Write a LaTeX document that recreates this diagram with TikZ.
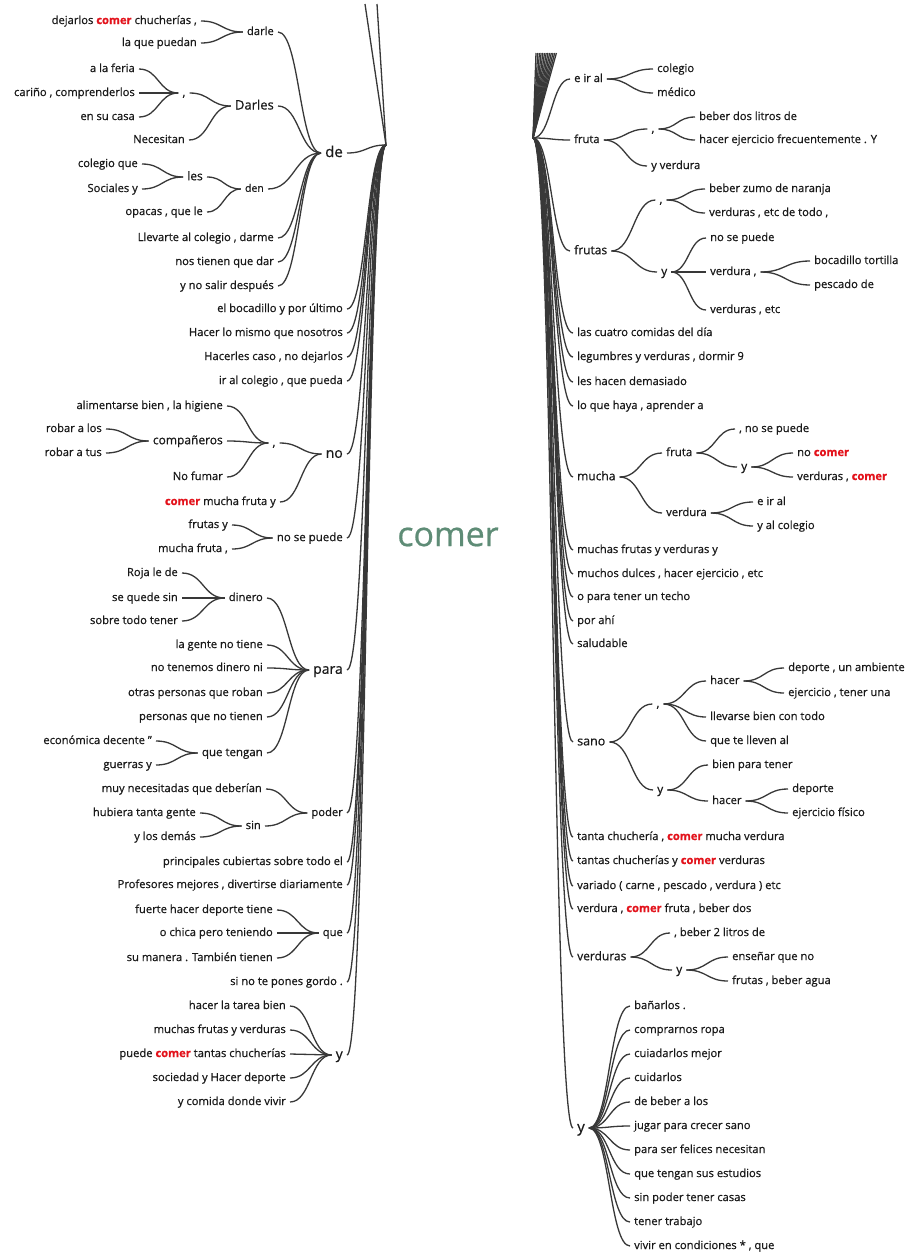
\documentclass[tikz,border=0pt]{standalone}
\usepackage{fontspec}
\setmainfont{Open Sans}[FakeBold=0.6]
\usetikzlibrary{calc}
\definecolor{linec}{HTML}{383838}
\definecolor{cred}{HTML}{E3121B}
\definecolor{comerc}{HTML}{5E8C76}
\newcommand\cm{{\color{cred}\bfseries comer}}
\newcommand\lk[2]{\path ($(#1)!0.5!(#2)$) coordinate (mm); \draw[link] (#1) .. controls (mm|-#1) and (mm|-#2) .. (#2);}
\tikzset{
 link/.style={draw=linec, line width=1.3pt},
 sz/.style={font=\fontsize{#1}{#1}\selectfont, text height={0.75*#1pt}, text depth={0.21*#1pt}, inner xsep=4pt, inner ysep=0pt, text=black!90},
 lw/.style={sz=#1, anchor=east, xshift=4pt},
 lw/.default=11.2,
 rw/.style={sz=#1, anchor=west, xshift=-4pt},
 rw/.default=11.2,
 cw/.style={sz=#1},
 cw/.default=12,
}
\begin{document}
\begin{tikzpicture}[x=1pt,y=-1pt]
\fill[white] (0,0) rectangle (910,1254);
\useasboundingbox (0,0) rectangle (910,1254);
\coordinate (L) at (386,145);
\coordinate (R) at (533,138);
% ---------------- left side ----------------
\node[lw=15] (de) at (343,153) {de};
\node[lw] (l1) at (343,309) {el bocadillo y por último};
\node[lw] (l2) at (343,333) {Hacer lo mismo que nosotros};
\node[lw] (l3) at (343,357) {Hacerles caso , no dejarlos};
\node[lw] (l4) at (343,381) {ir al colegio , que pueda};
\node[lw=14] (no) at (343,454) {no};
\node[lw=11.5] (nsp) at (343,538) {no se puede};
\node[lw=14] (para) at (343,670) {para};
\node[lw] (poder) at (343,813) {poder};
\node[lw] (l5) at (343,862) {principales cubiertas sobre todo el};
\node[lw] (l6) at (343,885) {Profesores mejores , divertirse diariamente};
\node[lw] (que) at (343,933) {que};
\node[lw] (l7) at (343,982) {si no te pones gordo .};
\node[lw=14] (ly) at (343,1055) {y};
% de children
\node[lw] (darle) at (274,32) {darle};
\node[lw=13] (Darles) at (274,106) {Darles};
\node[lw=10.5] (den) at (264,189) {den};
\node[lw] (d4) at (274,238) {Llevarte al colegio , darme};
\node[lw] (d5) at (274,262) {nos tienen que dar};
\node[lw] (d6) at (274,286) {y no salir después};
\node[lw] (da1) at (197,21) {dejarlos \cm{} chucherías ,};
\node[lw] (da2) at (197,43) {la que puedan};
\node[cw] (dc) at (184,93) {,};
\node[lw] (dn) at (185,140) {Necesitan};
\node[lw] (c1) at (135,69) {a la feria};
\node[lw] (c2) at (135,93) {cariño , comprenderlos};
\node[lw] (c3) at (135,117) {en su casa};
\node[lw=12] (les) at (203,177) {les};
\node[lw] (den2) at (203,212) {opacas , que le};
\node[lw] (le1) at (138,164) {colegio que};
\node[lw] (le2) at (138,189) {Sociales y};
% no children
\node[cw] (nc) at (274,443) {,};
\node[lw] (no2) at (276,502) {\cm{} mucha fruta y};
\node[lw] (n1) at (223,406) {alimentarse bien , la higiene};
\node[lw=12] (comp) at (223,441) {compañeros};
\node[lw] (n3) at (223,477) {No fumar};
\node[lw] (cp1) at (102,429) {robar a los};
\node[lw] (cp2) at (102,453) {robar a tus};
% no se puede children
\node[lw] (ns1) at (228,525) {frutas y};
\node[lw] (ns2) at (228,549) {mucha fruta ,};
% para children
\node[lw] (dinero) at (263,598) {dinero};
\node[lw] (p2) at (263,645) {la gente no tiene};
\node[lw] (p3) at (263,668) {no tenemos dinero ni};
\node[lw] (p4) at (263,693) {otras personas que roban};
\node[lw] (p5) at (263,717) {personas que no tienen};
\node[lw=11.5] (qt) at (263,753) {que tengan};
\node[lw] (di1) at (178,573) {Roja le de};
\node[lw] (di2) at (178,598) {se quede sin};
\node[lw] (di3) at (178,621) {sobre todo tener};
\node[lw] (q1) at (152,741) {económica decente "};
\node[lw] (q2) at (152,765) {guerras y};
% poder children
\node[lw] (po1) at (262,789) {muy necesitadas que deberían};
\node[lw] (sin) at (261,826) {sin};
\node[lw] (s1) at (196,813) {hubiera tanta gente};
\node[lw] (s2) at (196,837) {y los demás};
% que children
\node[lw] (qu1) at (273,910) {fuerte hacer deporte tiene};
\node[lw] (qu2) at (273,933) {o chica pero teniendo};
\node[lw] (qu3) at (273,958) {su manera . También tienen};
% y children
\node[lw] (y1) at (286,1006) {hacer la tarea bien};
\node[lw] (y2) at (286,1030) {muchas frutas y verduras};
\node[lw] (y3) at (286,1054) {puede \cm{} tantas chucherías};
\node[lw] (y4) at (286,1078) {sociedad y Hacer deporte};
\node[lw] (y5) at (286,1102) {y comida donde vivir};
% ---------------- centre ----------------
\node[font=\fontsize{34}{34}\selectfont, text=comerc] (comer) at (448,537) {comer};
% ---------------- right side ----------------
\node[rw] (eir) at (574,79) {e ir al};
\node[rw] (fruta) at (574,140) {fruta};
\node[rw=12] (frutas) at (574,251) {frutas};
\node[rw] (r1) at (577,333) {las cuatro comidas del día};
\node[rw] (r2) at (577,357) {legumbres y verduras , dormir 9};
\node[rw] (r3) at (577,382) {les hacen demasiado};
\node[rw] (r4) at (577,406) {lo que haya , aprender a};
\node[rw=12] (mucha) at (577,477) {mucha};
\node[rw] (r5) at (577,550) {muchas frutas y verduras y};
\node[rw] (r6) at (577,574) {muchos dulces , hacer ejercicio , etc};
\node[rw] (r7) at (577,597) {o para tener un techo};
\node[rw] (r8) at (577,621) {por ahí};
\node[rw] (r9) at (577,644) {saludable};
\node[rw=12.5] (sano) at (577,742) {sano};
\node[rw] (r10) at (577,837) {tanta chuchería , \cm{} mucha verdura};
\node[rw] (r11) at (577,861) {tantas chucherías y \cm{} verduras};
\node[rw] (r12) at (577,886) {variado ( carne , pescado , verdura ) etc};
\node[rw] (r13) at (577,909) {verdura , \cm{} fruta , beber dos};
\node[rw=12] (verduras) at (577,957) {verduras};
\node[rw=15] (ry) at (577,1128) {y};
% e ir al
\node[rw] (e1) at (657,69) {colegio};
\node[rw] (e2) at (657,93) {médico};
% fruta
\node[cw] (fc) at (653,129) {,};
\node[rw] (fyv) at (651,166) {y verdura};
\node[rw] (fc1) at (699,117) {beber dos litros de};
\node[rw] (fc2) at (699,140) {hacer ejercicio frecuentemente . Y};
% frutas
\node[cw] (fsc) at (661,200) {,};
\node[rw=12] (fy) at (661,272) {y};
\node[rw] (fs1) at (709,189) {beber zumo de naranja};
\node[rw] (fs2) at (709,213) {verduras , etc de todo ,};
\node[rw] (fy1) at (710,238) {no se puede};
\node[rw] (fv) at (710,272) {verdura ,};
\node[rw] (fy3) at (710,310) {verduras , etc};
\node[rw] (fv1) at (814,261) {bocadillo tortilla};
\node[rw] (fv2) at (814,285) {pescado de};
% mucha
\node[rw=11.5] (mf) at (666,453) {fruta};
\node[rw] (mv) at (666,513) {verdura};
\node[rw] (mf1) at (739,429) {, no se puede};
\node[rw=12] (mfy) at (741,467) {y};
\node[rw] (mfy1) at (797,453) {no \cm};
\node[rw] (mfy2) at (797,477) {verduras , \cm};
\node[rw] (mv1) at (757,502) {e ir al};
\node[rw] (mv2) at (757,526) {y al colegio};
% sano
\node[cw] (sc) at (658,704) {,};
\node[rw=12] (sy) at (657,790) {y};
\node[rw] (sh) at (710,681) {hacer};
\node[rw] (sc2) at (710,717) {llevarse bien con todo};
\node[rw] (sc3) at (710,741) {que te lleven al};
\node[rw] (sh1) at (788,668) {deporte , un ambiente};
\node[rw] (sh2) at (788,693) {ejercicio , tener una};
\node[rw] (sy1) at (712,765) {bien para tener};
\node[rw] (syh) at (712,801) {hacer};
\node[rw] (syh1) at (792,789) {deporte};
\node[rw] (syh2) at (792,813) {ejercicio físico};
% verduras
\node[rw] (v1) at (674,933) {, beber 2 litros de};
\node[rw=12] (vy) at (676,970) {y};
\node[rw] (vy1) at (732,957) {enseñar que no};
\node[rw] (vy2) at (732,981) {frutas , beber agua};
% y (bottom)
\node[rw] (ry1) at (634,1006) {bañarlos .};
\node[rw] (ry2) at (634,1030) {comprarnos ropa};
\node[rw] (ry3) at (634,1054) {cuiadarlos mejor};
\node[rw] (ry4) at (634,1078) {cuidarlos};
\node[rw] (ry5) at (634,1102) {de beber a los};
\node[rw] (ry6) at (634,1126) {jugar para crecer sano};
\node[rw] (ry7) at (634,1150) {para ser felices necesitan};
\node[rw] (ry8) at (634,1174) {que tengan sus estudios};
\node[rw] (ry9) at (634,1198) {sin poder tener casas};
\node[rw] (ry10) at (634,1222) {tener trabajo};
\node[rw] (ry11) at (634,1246) {vivir en condiciones * , que};
% ---------------- connectors ----------------
% left trunk
\coordinate (lu1) at (365,4);
\coordinate (lu2) at (377,4);
\draw[link] (L) -- (lu1);
\draw[link] (L) -- (lu2);
\foreach \n in {de,l1,l2,l3,l4,no,nsp,para,poder,l5,l6,que,l7,ly} {\lk{\n.east}{L}}
\foreach \n in {darle,Darles,den,d4,d5,d6} {\lk{\n.east}{de.west}}
\foreach \n in {da1,da2} {\lk{\n.east}{darle.west}}
\foreach \n in {dc,dn} {\lk{\n.east}{Darles.west}}
\foreach \n in {c1,c2,c3} {\lk{\n.east}{dc.west}}
\foreach \n in {les,den2} {\lk{\n.east}{den.west}}
\foreach \n in {le1,le2} {\lk{\n.east}{les.west}}
\foreach \n in {nc,no2} {\lk{\n.east}{no.west}}
\foreach \n in {n1,comp,n3} {\lk{\n.east}{nc.west}}
\foreach \n in {cp1,cp2} {\lk{\n.east}{comp.west}}
\foreach \n in {ns1,ns2} {\lk{\n.east}{nsp.west}}
\foreach \n in {dinero,p2,p3,p4,p5,qt} {\lk{\n.east}{para.west}}
\foreach \n in {di1,di2,di3} {\lk{\n.east}{dinero.west}}
\foreach \n in {q1,q2} {\lk{\n.east}{qt.west}}
\foreach \n in {po1,sin} {\lk{\n.east}{poder.west}}
\foreach \n in {s1,s2} {\lk{\n.east}{sin.west}}
\foreach \n in {qu1,qu2,qu3} {\lk{\n.east}{que.west}}
\foreach \n in {y1,y2,y3,y4,y5} {\lk{\n.east}{ly.west}}
% right trunk
\foreach \i in {0,...,12} {\coordinate (ru\i) at (536+1.7*\i,53); \draw[link] (R) -- (ru\i);}
\foreach \n in {eir,fruta,frutas,r1,r2,r3,r4,mucha,r5,r6,r7,r8,r9,sano,r10,r11,r12,r13,verduras,ry} {\lk{R}{\n.west}}
\foreach \n in {e1,e2} {\lk{eir.east}{\n.west}}
\foreach \n in {fc,fyv} {\lk{fruta.east}{\n.west}}
\foreach \n in {fc1,fc2} {\lk{fc.east}{\n.west}}
\foreach \n in {fsc,fy} {\lk{frutas.east}{\n.west}}
\foreach \n in {fs1,fs2} {\lk{fsc.east}{\n.west}}
\foreach \n in {fy1,fv,fy3} {\lk{fy.east}{\n.west}}
\foreach \n in {fv1,fv2} {\lk{fv.east}{\n.west}}
\foreach \n in {mf,mv} {\lk{mucha.east}{\n.west}}
\foreach \n in {mf1,mfy} {\lk{mf.east}{\n.west}}
\foreach \n in {mfy1,mfy2} {\lk{mfy.east}{\n.west}}
\foreach \n in {mv1,mv2} {\lk{mv.east}{\n.west}}
\foreach \n in {sc,sy} {\lk{sano.east}{\n.west}}
\foreach \n in {sh,sc2,sc3} {\lk{sc.east}{\n.west}}
\foreach \n in {sh1,sh2} {\lk{sh.east}{\n.west}}
\foreach \n in {sy1,syh} {\lk{sy.east}{\n.west}}
\foreach \n in {syh1,syh2} {\lk{syh.east}{\n.west}}
\foreach \n in {v1,vy} {\lk{verduras.east}{\n.west}}
\foreach \n in {vy1,vy2} {\lk{vy.east}{\n.west}}
\foreach \n in {ry1,ry2,ry3,ry4,ry5,ry6,ry7,ry8,ry9,ry10,ry11} {\lk{ry.east}{\n.west}}
\end{tikzpicture}
\end{document}
